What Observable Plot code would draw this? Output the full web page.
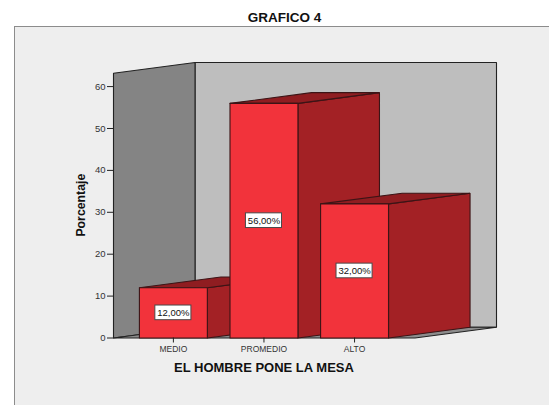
<!DOCTYPE html>
<html><head><meta charset="utf-8">
<script src="https://cdn.jsdelivr.net/npm/d3@7"></script>
<script src="https://cdn.jsdelivr.net/npm/@observablehq/plot@0.6"></script>
<style>
html,body{margin:0;padding:0;background:#fff;font-family:"Liberation Sans",Arial,sans-serif;overflow:hidden}
#title{height:26px;line-height:36px;font-size:13.5px;font-weight:bold;text-align:center;color:#111;width:569px;box-sizing:border-box;overflow:hidden}
#panel{margin-left:14px;width:535px;height:379px;box-sizing:border-box;background:#eeeeee;border-left:1px solid #8c8c8c;border-top:1px solid #8c8c8c}
svg{display:block;background:transparent!important}
</style></head><body>
<div id="title">GRAFICO 4</div>
<div id="panel"></div>
<script>
const categories = ["MEDIO", "PROMEDIO", "ALTO"];
const values = [12, 56, 32];
const yTicks = [0, 10, 20, 30, 40, 50, 60];
const xAxisLabel = "EL HOMBRE PONE LA MESA";
const yAxisLabel = "Porcentaje";

// box geometry in data units
const depthX = 0.9, depthY = 2.55;
const floorL = -0.661, floorR = 2.667, wallTop = 63.2;
const barHalf = 0.375, boxHalfX = 0.199, boxHalfY = 1.75;

const C = {front:"#f2333b", side:"#a32125", top:"#8f1d21", back:"#bebebe", left:"#848484", floor:"#8c8c8c", edge:"#222222", barEdge:"#3c1416"};

const poly = (pts, fill, stroke) => Plot.line(
  [...pts, pts[0]].map(([x, y]) => ({x, y})),
  {x:"x", y:"y", fill, stroke, strokeWidth:1.1, curve:"linear", strokeLinejoin:"miter"});

const marks = [
  poly([[floorL+depthX,depthY],[floorL+depthX,wallTop+depthY],[floorR+depthX,wallTop+depthY],[floorR+depthX,depthY]], C.back, C.edge),
  poly([[floorL,0],[floorL,wallTop],[floorL+depthX,wallTop+depthY],[floorL+depthX,depthY]], C.left, C.edge),
  poly([[floorL,0],[floorL+depthX,depthY],[floorR+depthX,depthY],[floorR,0]], C.floor, C.edge)
];
values.forEach((v, i) => {
  const l = i - barHalf, r = i + barHalf;
  marks.push(
    poly([[r,0],[r,v],[r+depthX,v+depthY],[r+depthX,depthY]], C.side, C.barEdge),
    poly([[l,v],[r,v],[r+depthX,v+depthY],[l+depthX,v+depthY]], C.top, C.barEdge),
    poly([[l,0],[l,v],[r,v],[r,0]], C.front, C.barEdge)
  );
});
const table = categories.map((c, i) => ({c, i, v: values[i]}));
marks.push(
  Plot.rect(table, {x1:d=>d.i-boxHalfX, x2:d=>d.i+boxHalfX, y1:d=>d.v/2-boxHalfY, y2:d=>d.v/2+boxHalfY, fill:"#ffffff", stroke:"#4a4a4a", strokeWidth:1}),
  Plot.text(table, {x:"i", y:d=>d.v/2, text:d=>d.v.toFixed(2).replace(".", ",")+"%", fontSize:9.5, fill:"#111", fontFamily:"Liberation Sans"}),
  Plot.axisY({ticks:yTicks, anchor:"left", tickSize:6, tickPadding:2, label:null, fontSize:9.5, color:"#333", stroke:"#222"}),
  Plot.axisX({ticks:[0,1,2], anchor:"bottom", tickSize:5, tickPadding:3, tickFormat:i=>categories[i], label:null, fontSize:8.5, color:"#333", stroke:"#222"}),
  Plot.text([xAxisLabel], {x:()=>1, frameAnchor:"bottom", dy:30, fontSize:13, fontWeight:"bold", fill:"#111", lineAnchor:"middle", textAnchor:"middle"}),
  Plot.text([yAxisLabel], {y:()=>31.7, frameAnchor:"left", rotate:-90, dx:-32, fontSize:12.3, fontWeight:"bold", fill:"#111", textAnchor:"middle", lineAnchor:"middle"})
);

const chart = Plot.plot({
  width:534, height:378,
  marginLeft:98, marginRight:53, marginTop:35, marginBottom:67.5,
  x:{type:"linear", domain:[floorL, floorR+depthX]},
  y:{type:"linear", domain:[0, wallTop+depthY]},
  style:{background:"transparent", fontFamily:"Liberation Sans"},
  marks
});
document.getElementById("panel").appendChild(chart);
</script>
</body></html>
